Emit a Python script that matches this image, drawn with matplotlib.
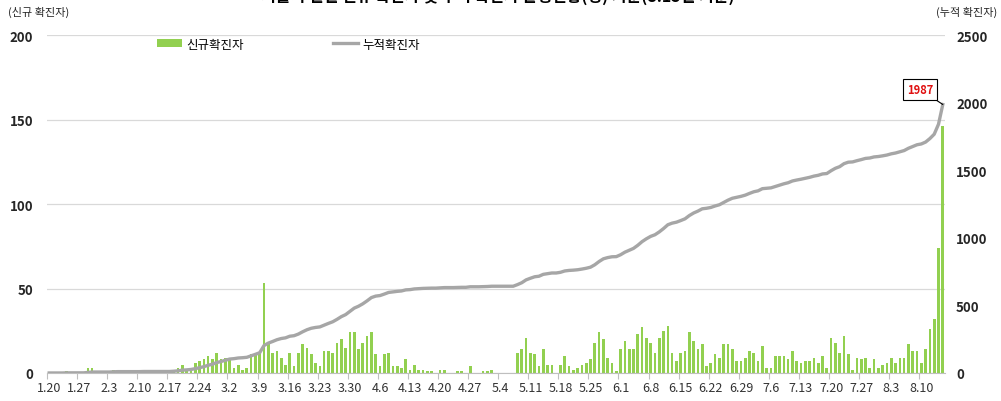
import numpy as np
import pandas as pd
import matplotlib
matplotlib.use("Agg")
import matplotlib.pyplot as plt
from matplotlib.patches import Patch
from matplotlib.lines import Line2D

plt.rcParams['font.family'] = ['Noto Sans CJK KR', 'DejaVu Sans']

# daily new cases, by month (1.20 ~ 8.15)
jan = [0, 0, 0, 0, 1, 0, 0, 0, 0, 3, 3, 0]
feb = [0, 0, 0, 2, 1, 0, 0, 0, 0, 0, 1, 0, 0, 0, 0, 0, 0, 2, 3, 5,
       2, 3, 6, 7, 8, 10, 8, 12, 8]
mar = [9, 9, 3, 5, 2, 3, 11, 11, 12, 53, 18, 12, 13, 9, 5, 12, 4, 12, 17, 15,
       11, 6, 4, 13, 13, 12, 18, 20, 15, 24, 24]
apr = [14, 18, 22, 24, 11, 4, 11, 12, 4, 4, 3, 8, 2, 5, 2, 2, 1, 1, 0, 2,
       2, 0, 0, 1, 1, 0, 4, 0, 0, 1]
may = [1, 2, 0, 0, 0, 0, 0, 12, 14, 21, 12, 11, 4, 14, 5, 5, 0, 5, 10, 4,
       2, 3, 5, 6, 8, 18, 24, 20, 9, 6, 1]
jun = [14, 19, 14, 14, 23, 27, 21, 18, 12, 21, 25, 28, 12, 7, 12, 13, 24, 19, 14, 17,
       4, 6, 11, 9, 17, 17, 14, 7, 7, 9]
jul = [13, 12, 7, 16, 3, 3, 10, 10, 10, 8, 13, 7, 6, 7, 7, 9, 6, 10, 3, 21,
       18, 12, 22, 11, 2, 9, 8, 9, 3, 8, 3]
aug = [5, 6, 9, 6, 9, 9, 17, 13, 13, 6, 14, 26, 32, 74, 146]

daily = np.array(jan + feb + mar + apr + may + jun + jul + aug)
cumulative = np.cumsum(daily)
dates = pd.date_range('2020-01-20', periods=len(daily), freq='D')
labels = [f"{d.month}.{d.day}" for d in dates]

title = "서울시 일일 신규 확진자 및 누적 확진자 발생현황(명) 기준(8.15일 기준)"

bar_color = '#92D050'
line_color = '#A6A6A6'
grid_color = '#D9D9D9'

fig = plt.figure(figsize=(10.01, 4.02), dpi=100)
ax = fig.add_axes([0.047, 0.0697, 0.897, 0.8403])
ax2 = ax.twinx()

x = np.arange(len(daily))
ax.bar(x, daily, width=0.62, color=bar_color, zorder=2)
ax2.plot(x, cumulative, color=line_color, linewidth=2.4, zorder=3)

ax.set_xlim(-0.5, len(daily) - 0.5)
ax.set_ylim(0, 200)
ax2.set_ylim(0, 2500)
ax.set_yticks([0, 50, 100, 150, 200])
ax2.set_yticks([0, 500, 1000, 1500, 2000, 2500])

ax.yaxis.grid(True, color=grid_color, linewidth=0.9, zorder=0)
ax.set_axisbelow(True)

for a in (ax, ax2):
    for s in ('top', 'left', 'right'):
        a.spines[s].set_visible(False)
    a.spines['bottom'].set_color('#BFBFBF')
    a.tick_params(axis='y', length=0)
ax2.spines['bottom'].set_visible(False)

for t in ax.get_yticklabels() + ax2.get_yticklabels():
    t.set_fontweight('bold')
    t.set_fontsize(9.5)
    t.set_color('#262626')
ax.tick_params(axis='y', pad=10)
ax2.tick_params(axis='y', pad=8)

# category labels every 7 days, tick marks between categories
major = x[::7]
ax.set_xticks(major)
ax.set_xticklabels([labels[i] for i in major], fontsize=9, color='#333333')
ax.set_xticks(major - 0.5, minor=True)
ax.tick_params(axis='x', which='major', length=0, pad=6)
ax.tick_params(axis='x', which='minor', length=4, color='#BFBFBF', width=0.8)

# axis captions
fig.text(0.008, 0.968, "(신규 확진자)", fontsize=8, color='#262626', va='center', ha='left')
fig.text(0.996, 0.968, "(누적 확진자)", fontsize=8, color='#262626', va='center', ha='right')
fig.text(0.497, 1.009, title, fontsize=11.5, fontweight='bold', ha='center', va='center')

# legend
handles = [Patch(facecolor=bar_color, edgecolor='none'),
           Line2D([0], [0], color=line_color, linewidth=2.4)]
fig.legend(handles, ["신규확진자", "누적확진자"], loc='center left',
           bbox_to_anchor=(0.157, 0.888), ncol=2, frameon=False,
           fontsize=9, handlelength=2.0, handleheight=0.6,
           handletextpad=0.3, columnspacing=7.2, borderaxespad=0, borderpad=0)

# callout for the last cumulative value
last = len(daily) - 1
ax2.annotate(f"{cumulative[-1]}", xy=(last, cumulative[-1]), xytext=(last - 5.3, 2100),
             ha='center', va='center', fontsize=8, fontweight='bold', color='#E01010',
             bbox=dict(boxstyle='square,pad=0.35', facecolor='white', edgecolor='black', linewidth=0.8),
             arrowprops=dict(arrowstyle='-', color='black', linewidth=0.8,
                             shrinkA=0, shrinkB=0))

fig.savefig("out.png", dpi=100)
